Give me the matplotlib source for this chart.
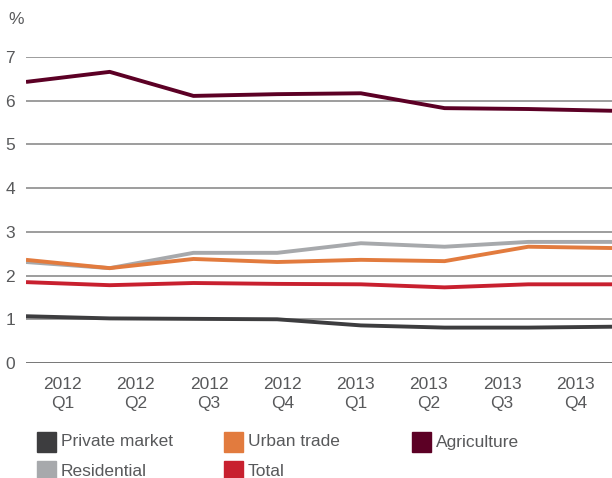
import matplotlib
matplotlib.use("Agg")
import matplotlib.pyplot as plt
from matplotlib.patches import Rectangle

plt.rcParams['font.family'] = ['Liberation Sans', 'DejaVu Sans']

quarters = ["2012\nQ1", "2012\nQ2", "2012\nQ3", "2012\nQ4",
            "2013\nQ1", "2013\nQ2", "2013\nQ3", "2013\nQ4"]

private_market = [1.07, 1.02, 1.01, 1.00, 0.86, 0.81, 0.81, 0.83]
residential = [2.31, 2.17, 2.52, 2.52, 2.74, 2.66, 2.77, 2.77]
urban_trade = [2.36, 2.17, 2.38, 2.31, 2.36, 2.33, 2.66, 2.63]
total = [1.85, 1.78, 1.83, 1.81, 1.80, 1.73, 1.80, 1.80]
agriculture = [6.43, 6.66, 6.11, 6.15, 6.17, 5.83, 5.81, 5.77]

series = [
    ("Private market", private_market, "#3d3d3f"),
    ("Residential", residential, "#a7a9ac"),
    ("Urban trade", urban_trade, "#e27b3e"),
    ("Total", total, "#c8202f"),
    ("Agriculture", agriculture, "#5c0025"),
]

text_color = "#58595b"
fs = 12.5

fig = plt.figure(figsize=(6.12, 4.78), dpi=100)
ax = fig.add_axes([26 / 612, 1 - 363 / 478, 1 - 26 / 612, (363 - 57) / 478])

n = len(quarters)
xs = list(range(n))

# horizontal grid
for v in range(0, 8):
    ax.axhline(v, color="#777777" if v == 0 else "#9d9d9d", lw=1.4, zorder=1)

for name, vals, col in series:
    ax.plot(xs, vals, color=col, lw=2.8, zorder=3, solid_capstyle="butt")

ax.set_xlim(0, n - 1)
ax.set_ylim(0, 7)
for s in ax.spines.values():
    s.set_visible(False)

# quarter labels centred in equal slots across the width
slot = (n - 1) / n
ax.set_xticks([(i + 0.5) * slot for i in range(n)])
ax.set_xticklabels(quarters, fontsize=fs, color=text_color, linespacing=1.35)
ax.set_yticks(range(0, 8))
ax.set_yticklabels([str(v) for v in range(0, 8)], fontsize=fs, color=text_color)
ax.tick_params(length=0)
ax.tick_params(axis="x", pad=10)
ax.tick_params(axis="y", pad=8)

fig.text(8 / 612, 1 - 19 / 478, "%", fontsize=fs, color=text_color,
         ha="left", va="center")

# legend drawn as squares and labels
legend_layout = [
    ("Private market", "#3d3d3f", 37, 442),
    ("Urban trade", "#e27b3e", 224, 442),
    ("Agriculture", "#5c0025", 412, 442),
    ("Residential", "#a7a9ac", 37, 471),
    ("Total", "#c8202f", 224, 471),
]
for label, col, px, py in legend_layout:
    fig.patches.append(Rectangle((px / 612, 1 - (py + 10) / 478), 19 / 612, 20 / 478,
                                 transform=fig.transFigure, color=col))
    fig.text((px + 24) / 612, 1 - py / 478, label, fontsize=fs,
             color=text_color, ha="left", va="center")

fig.savefig("out.png", dpi=100)
